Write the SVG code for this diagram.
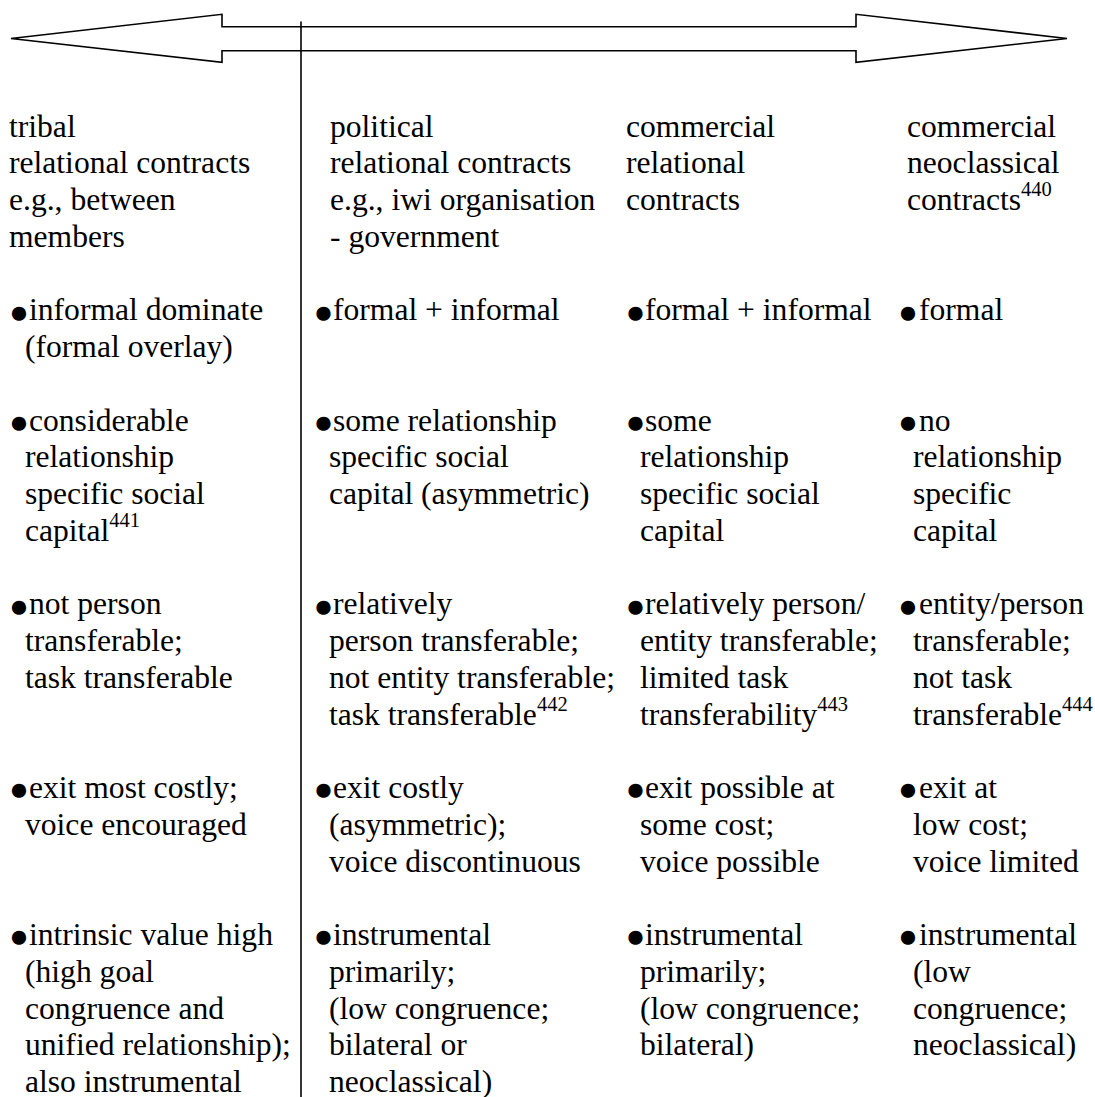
<svg xmlns="http://www.w3.org/2000/svg" width="1095" height="1097" viewBox="0 0 1095 1097">
  <style>
    text { font-family: "Liberation Serif", "Times New Roman", serif; font-size: 31.6px; fill: #000; }
    .b { font-size: 33px; }
    .sup { font-size: 20.5px; }
    .frame { fill: none; stroke: #000; stroke-width: 1.6; }
  </style>
  <rect width="1095" height="1097" fill="#fff"/>

  <!-- connectors: double-headed spectrum arrow and column divider -->
  <g id="connectors">
    <polygon class="frame" points="11,38.5 222,14.3 222,26.8 856,26.8 856,14.3 1067,38.5 856,62.3 856,50.7 222,50.7 222,62.3"/>
    <line class="frame" x1="301" y1="21.5" x2="301" y2="1097" stroke-width="1.8"/>
  </g>

  <!-- column 1: tribal relational contracts -->
  <g id="col-tribal">
    <text x="9" y="136.7">tribal</text>
    <text x="9" y="173.4">relational contracts</text>
    <text x="9" y="210.2">e.g., between</text>
    <text x="9" y="246.9">members</text>

    <text><tspan class="b" x="9.1" y="322.7">●</tspan><tspan x="29" y="320.4">informal dominate</tspan></text>
    <text x="25" y="357.1">(formal overlay)</text>

    <text><tspan class="b" x="9.1" y="432.9">●</tspan><tspan x="29" y="430.6">considerable</tspan></text>
    <text x="25" y="467.4">relationship</text>
    <text x="25" y="504.1">specific social</text>
    <text x="25" y="540.8">capital<tspan class="sup" dy="-14">441</tspan></text>

    <text><tspan class="b" x="9.1" y="616.6">●</tspan><tspan x="29" y="614.3">not person</tspan></text>
    <text x="25" y="651.1">transferable;</text>
    <text x="25" y="687.8">task transferable</text>

    <text><tspan class="b" x="9.1" y="800.3">●</tspan><tspan x="29" y="798.0">exit most costly;</tspan></text>
    <text x="25" y="834.8">voice encouraged</text>

    <text><tspan class="b" x="9.1" y="947.3">●</tspan><tspan x="29" y="945.0">intrinsic value high</tspan></text>
    <text x="25" y="981.7">(high goal</text>
    <text x="25" y="1018.5">congruence and</text>
    <text x="25" y="1055.2">unified relationship);</text>
    <text x="25" y="1091.9">also instrumental</text>
  </g>

  <!-- column 2: political relational contracts -->
  <g id="col-political">
    <text x="330" y="136.7">political</text>
    <text x="330" y="173.4">relational contracts</text>
    <text x="330" y="210.2">e.g., iwi organisation</text>
    <text x="330" y="246.9">- government</text>

    <text><tspan class="b" x="313.4" y="322.7">●</tspan><tspan x="333" y="320.4">formal + informal</tspan></text>

    <text><tspan class="b" x="313.4" y="432.9">●</tspan><tspan x="333" y="430.6">some relationship</tspan></text>
    <text x="329" y="467.4">specific social</text>
    <text x="329" y="504.1">capital (asymmetric)</text>

    <text><tspan class="b" x="313.4" y="616.6">●</tspan><tspan x="333" y="614.3">relatively</tspan></text>
    <text x="329" y="651.1">person transferable;</text>
    <text x="329" y="687.8">not entity transferable;</text>
    <text x="329" y="724.5">task transferable<tspan class="sup" dy="-14">442</tspan></text>

    <text><tspan class="b" x="313.4" y="800.3">●</tspan><tspan x="333" y="798.0">exit costly</tspan></text>
    <text x="329" y="834.8">(asymmetric);</text>
    <text x="329" y="871.5">voice discontinuous</text>

    <text><tspan class="b" x="313.4" y="947.3">●</tspan><tspan x="333" y="945.0">instrumental</tspan></text>
    <text x="329" y="981.7">primarily;</text>
    <text x="329" y="1018.5">(low congruence;</text>
    <text x="329" y="1055.2">bilateral or</text>
    <text x="329" y="1091.9">neoclassical)</text>
  </g>

  <!-- column 3: commercial relational contracts -->
  <g id="col-commercial-relational">
    <text x="626" y="136.7">commercial</text>
    <text x="626" y="173.4">relational</text>
    <text x="626" y="210.2">contracts</text>

    <text><tspan class="b" x="625.4" y="322.7">●</tspan><tspan x="645" y="320.4">formal + informal</tspan></text>

    <text><tspan class="b" x="625.4" y="432.9">●</tspan><tspan x="645" y="430.6">some</tspan></text>
    <text x="640" y="467.4">relationship</text>
    <text x="640" y="504.1">specific social</text>
    <text x="640" y="540.8">capital</text>

    <text><tspan class="b" x="625.4" y="616.6">●</tspan><tspan x="645" y="614.3">relatively person/</tspan></text>
    <text x="640" y="651.1">entity transferable;</text>
    <text x="640" y="687.8">limited task</text>
    <text x="640" y="724.5">transferability<tspan class="sup" dy="-14">443</tspan></text>

    <text><tspan class="b" x="625.4" y="800.3">●</tspan><tspan x="645" y="798.0">exit possible at</tspan></text>
    <text x="640" y="834.8">some cost;</text>
    <text x="640" y="871.5">voice possible</text>

    <text><tspan class="b" x="625.4" y="947.3">●</tspan><tspan x="645" y="945.0">instrumental</tspan></text>
    <text x="640" y="981.7">primarily;</text>
    <text x="640" y="1018.5">(low congruence;</text>
    <text x="640" y="1055.2">bilateral)</text>
  </g>

  <!-- column 4: commercial neoclassical contracts -->
  <g id="col-commercial-neoclassical">
    <text x="907" y="136.7">commercial</text>
    <text x="907" y="173.4">neoclassical</text>
    <text x="907" y="210.2">contracts<tspan class="sup" dy="-14">440</tspan></text>

    <text><tspan class="b" x="897.9" y="322.7">●</tspan><tspan x="919" y="320.4">formal</tspan></text>

    <text><tspan class="b" x="897.9" y="432.9">●</tspan><tspan x="919" y="430.6">no</tspan></text>
    <text x="913" y="467.4">relationship</text>
    <text x="913" y="504.1">specific</text>
    <text x="913" y="540.8">capital</text>

    <text><tspan class="b" x="897.9" y="616.6">●</tspan><tspan x="919" y="614.3">entity/person</tspan></text>
    <text x="913" y="651.1">transferable;</text>
    <text x="913" y="687.8">not task</text>
    <text x="913" y="724.5">transferable<tspan class="sup" dy="-14">444</tspan></text>

    <text><tspan class="b" x="897.9" y="800.3">●</tspan><tspan x="919" y="798.0">exit at</tspan></text>
    <text x="913" y="834.8">low cost;</text>
    <text x="913" y="871.5">voice limited</text>

    <text><tspan class="b" x="897.9" y="947.3">●</tspan><tspan x="919" y="945.0">instrumental</tspan></text>
    <text x="913" y="981.7">(low</text>
    <text x="913" y="1018.5">congruence;</text>
    <text x="913" y="1055.2">neoclassical)</text>
  </g>
</svg>
